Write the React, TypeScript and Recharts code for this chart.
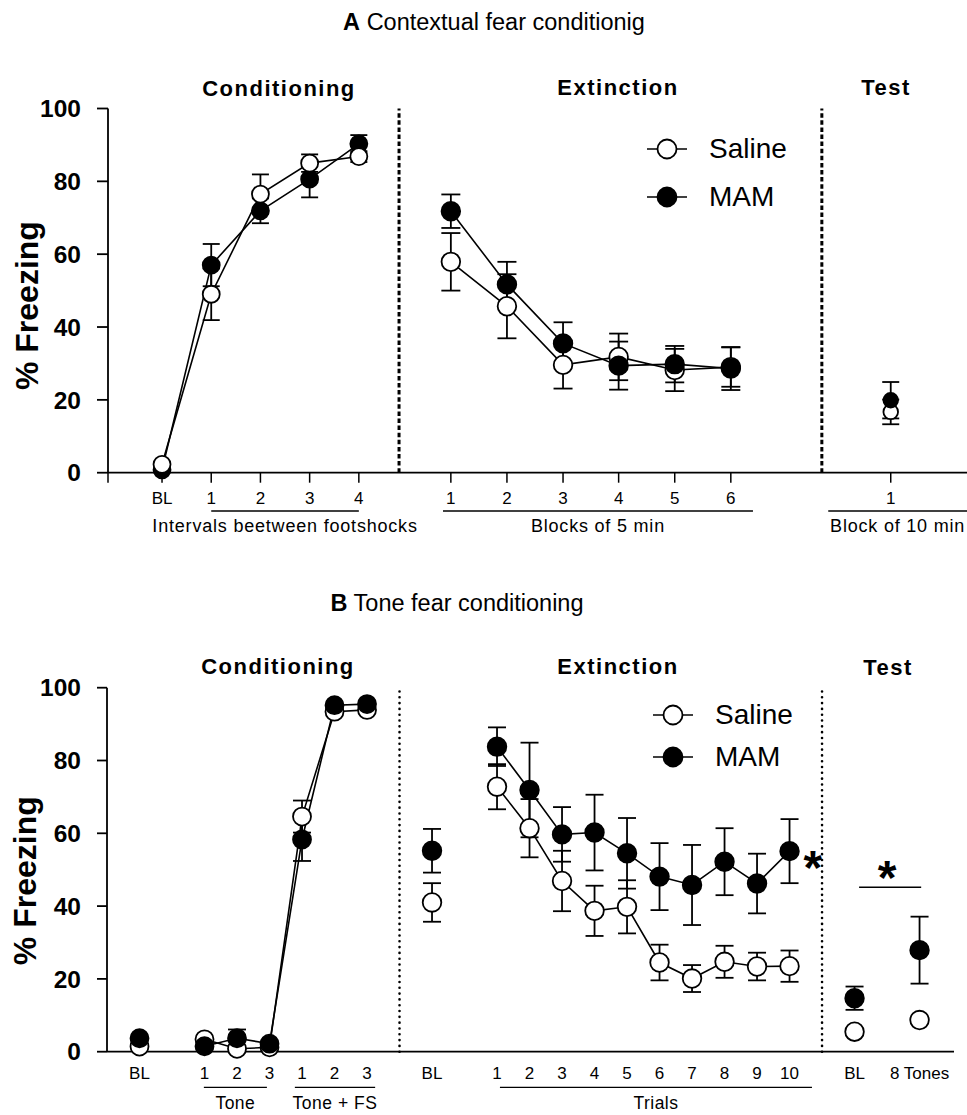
import React from "react";
import {
  ComposedChart,
  ErrorBar,
  Legend,
  Line,
  ReferenceDot,
  ReferenceLine,
  XAxis,
  YAxis,
} from "recharts";

const FONT = '"Liberation Sans", Arial, Helvetica, sans-serif';
const seriesNames = ["Saline", "MAM"];

// ---- Panel A: contextual fear conditioning ----
const condALabels = ["BL", "1", "2", "3", "4"];
const condAX = [0, 1, 2, 3, 4];
const condASaline = [2.3, 49, 76.5, 85, 86.8];
const condASalineErr = [0, 7.1, 5.4, 2.4, 1.5];
const condAMam = [0.8, 57, 71.9, 80.6, 90.3];
const condAMamErr = [0, 5.8, 3.4, 5, 2.4];

const extALabels = ["1", "2", "3", "4", "5", "6"];
const extAX = [5.87, 7.01, 8.15, 9.28, 10.42, 11.56];
const extASaline = [57.9, 45.7, 29.6, 31.8, 28.2, 29];
const extASalineErr = [7.9, 8.8, 6.5, 6.4, 5.8, 5.4];
const extAMam = [71.8, 51.7, 35.5, 29.4, 29.8, 28.6];
const extAMamErr = [4.6, 6.2, 5.8, 6.6, 5, 5.9];

const testALabels = ["1"];
const testAX = [14.81];
const testASaline = [16.7];
const testASalineErr = [3.4];
const testAMam = [19.9];
const testAMamErr = [5];

const A_DOMAIN: [number, number] = [-1.098, 16.36];
const A_DIVIDERS = [4.817, 13.41];
const A_GROUPS = [
  { from: 1, to: 4, label: "Intervals beetween footshocks" },
  { from: 5.71, to: 12.01, label: "Blocks of 5 min" },
  { from: 13.54, to: 16.36, label: "Block of 10 min" },
];

// ---- Panel B: tone fear conditioning ----
const blBX = [1];
const blBSaline = [1.4];
const blBMam = [3.7];

const toneBLabels = ["1", "2", "3", "1", "2", "3"];
const toneBX = [3, 4, 5, 6, 7, 8];
const toneBSaline = [3.4, 0.8, 1.2, 64.6, 93.4, 93.9];
const toneBSalineErr = [0, 0, 0, 4.4, 0, 0];
const toneBMam = [1.5, 3.7, 2.2, 58.3, 95.2, 95.5];
const toneBMamErr = [0, 2.4, 0, 5.9, 0, 0];

const extBlBX = [10];
const extBlBSaline = [41];
const extBlBSalineErr = [5.3];
const extBlBMam = [55.2];
const extBlBMamErr = [6];

const trialBLabels = ["1", "2", "3", "4", "5", "6", "7", "8", "9", "10"];
const trialBX = [12, 13, 14, 15, 16, 17, 18, 19, 20, 21];
const trialBSaline = [72.8, 61.4, 46.9, 38.7, 39.8, 24.5, 20.1, 24.7, 23.4, 23.5];
const trialBSalineErr = [6.2, 8, 8.3, 6.9, 7.3, 4.9, 3.7, 4.4, 3.8, 4.3];
const trialBMam = [83.8, 71.9, 59.7, 60.2, 54.5, 48.1, 45.8, 52.2, 46.2, 55.1];
const trialBMamErr = [5.3, 13, 7.5, 10.4, 9.7, 9.2, 11, 9.2, 8.2, 8.8];

const testBLabels = ["BL", "8 Tones"];
const testBX = [23, 25];
const testBSaline = [5.5, 8.7];
const testBMam = [14.7, 27.9];
const testBMamErr = [3.2, 9.2];

const B_DOMAIN: [number, number] = [0, 26.06];
const B_DIVIDERS = [9, 22];
const B_GROUPS = [
  { from: 2.98, to: 4.92, label: "Tone" },
  { from: 5.78, to: 8.25, label: "Tone + FS" },
  { from: 12.09, to: 21.69, label: "Trials" },
];

const yTicks = [0, 20, 40, 60, 80, 100];

type Pt = { x: number; y: number; e: number };
const pts = (xs: number[], ys: number[], es?: number[]): Pt[] =>
  xs.map((x, i) => ({ x, y: ys[i], e: es ? es[i] : 0 }));

type Tick = { x: number; label: string };
const tickList = (xs: number[], labels: string[]): Tick[] =>
  xs.map((x, i) => ({ x, label: labels[i] }));

function series(
  key: string,
  data: Pt[],
  open: boolean,
  r: number,
  cap: number,
  connect = true
) {
  return (
    <Line
      key={key}
      data={data}
      dataKey="y"
      type="linear"
      stroke={connect ? "#000" : "none"}
      strokeWidth={1.6}
      dot={{ r, fill: open ? "#fff" : "#000", stroke: "#000", strokeWidth: 1.8 }}
      activeDot={false}
      legendType="none"
      isAnimationActive={false}
    >
      <ErrorBar dataKey="e" direction="y" width={cap} stroke="#000" strokeWidth={1.8} />
    </Line>
  );
}

function LegendBox({ rowH }: { rowH: number }) {
  return (
    <div style={{ fontFamily: FONT, fontSize: 28, color: "#000" }}>
      {seriesNames.map((name, i) => (
        <div key={name} style={{ display: "flex", alignItems: "center", height: rowH }}>
          <svg width={40} height={rowH}>
            <line x1={0} x2={40} y1={rowH / 2} y2={rowH / 2} stroke="#000" strokeWidth={1.6} />
            <circle
              cx={20}
              cy={rowH / 2}
              r={9.5}
              fill={i === 0 ? "#fff" : "#000"}
              stroke="#000"
              strokeWidth={1.8}
            />
          </svg>
          <span style={{ marginLeft: 22, lineHeight: `${rowH}px` }}>{name}</span>
        </div>
      ))}
    </div>
  );
}

const yLabel = (cx: number, dy: number) => (props: any) => {
  const vb = props.viewBox || { y: 0, height: 0 };
  const cy = vb.y + vb.height / 2 + dy;
  return (
    <text
      x={cx}
      y={cy}
      transform={`rotate(-90 ${cx} ${cy})`}
      textAnchor="middle"
      dominantBaseline="central"
      fontSize={32}
      fontWeight="bold"
      fill="#000"
    >
      % Freezing
    </text>
  );
};

const Star = (p: any) => (
  <text
    x={p.cx}
    y={p.cy}
    dy="0.55em"
    textAnchor="middle"
    fontSize={48}
    fontWeight="bold"
    fill="#000"
  >
    *
  </text>
);

function groupLines(
  groups: { from: number; to: number; label: string }[],
  y: number,
  fontSize: number,
  spacing: number,
  offset: number
) {
  return groups.map((g) => (
    <ReferenceLine
      key={g.label}
      segment={[
        { x: g.from, y },
        { x: g.to, y },
      ]}
      stroke="#000"
      strokeWidth={1.4}
      ifOverflow="visible"
      label={{
        value: g.label,
        position: "bottom",
        offset,
        fill: "#000",
        fontSize,
        style: { letterSpacing: `${spacing}px` },
      }}
    />
  ));
}

function PanelA() {
  const ticks: Tick[] = [
    { x: A_DOMAIN[0], label: "" },
    ...tickList(condAX, condALabels),
    ...tickList(extAX, extALabels),
    ...tickList(testAX, testALabels),
  ];
  const fmt = (v: number) => ticks.find((t) => Math.abs(t.x - v) < 1e-6)?.label ?? "";
  return (
    <ComposedChart
      width={967}
      height={545}
      margin={{ top: 108.5, right: 0, bottom: 0, left: 0 }}
    >
      <XAxis
        type="number"
        dataKey="x"
        domain={A_DOMAIN}
        ticks={ticks.map((t) => t.x)}
        interval={0}
        tickFormatter={fmt}
        height={72.3}
        tickSize={10}
        tickMargin={9.5}
        axisLine={{ stroke: "#000", strokeWidth: 1.8 }}
        tickLine={{ stroke: "#000", strokeWidth: 1.5 }}
        tick={{ fontSize: 17, fill: "#000" }}
      />
      <YAxis
        type="number"
        domain={[0, 100]}
        ticks={yTicks}
        width={108}
        tickSize={11}
        tickMargin={16}
        axisLine={{ stroke: "#000", strokeWidth: 1.8 }}
        tickLine={{ stroke: "#000", strokeWidth: 1.8 }}
        tick={{ fontSize: 24.5, fontWeight: "bold", fill: "#000" }}
        label={yLabel(27, 15)}
      />
      {A_DIVIDERS.map((x) => (
        <ReferenceLine key={x} x={x} stroke="#000" strokeWidth={3} strokeDasharray="4.5 2.6" />
      ))}
      {groupLines(A_GROUPS, -10.5, 18, 0.8, 8)}
      {series("cam", pts(condAX, condAMam, condAMamErr), false, 8.5, 8.5)}
      {series("cas", pts(condAX, condASaline, condASalineErr), true, 8.5, 8.5)}
      {series("eas", pts(extAX, extASaline, extASalineErr), true, 9.3, 9.5)}
      {series("eam", pts(extAX, extAMam, extAMamErr), false, 9.3, 9.5)}
      {series("tas", pts(testAX, testASaline, testASalineErr), true, 7.3, 8.5, false)}
      {series("tam", pts(testAX, testAMam, testAMamErr), false, 7.3, 8.5, false)}
      <Legend
        verticalAlign="middle"
        align="center"
        wrapperStyle={{ left: 647, top: 125, width: 220 }}
        content={() => <LegendBox rowH={48} />}
      />
    </ComposedChart>
  );
}

function PanelB() {
  const ticks: Tick[] = [
    ...tickList(blBX, ["BL"]),
    ...tickList(toneBX, toneBLabels),
    ...tickList(extBlBX, ["BL"]),
    ...tickList(trialBX, trialBLabels),
    ...tickList(testBX, testBLabels),
  ];
  const fmt = (v: number) => ticks.find((t) => Math.abs(t.x - v) < 1e-6)?.label ?? "";
  return (
    <ComposedChart
      width={954}
      height={535}
      margin={{ top: 107.7, right: 0, bottom: 0, left: 0 }}
    >
      <XAxis
        type="number"
        dataKey="x"
        domain={B_DOMAIN}
        ticks={ticks.map((t) => t.x)}
        interval={0}
        tickFormatter={fmt}
        height={63.3}
        tickSize={0}
        tickMargin={15}
        axisLine={{ stroke: "#000", strokeWidth: 1.8 }}
        tickLine={false}
        tick={{ fontSize: 17, fill: "#000" }}
      />
      <YAxis
        type="number"
        domain={[0, 100]}
        ticks={yTicks}
        width={107}
        tickSize={10}
        tickMargin={16}
        axisLine={{ stroke: "#000", strokeWidth: 1.8 }}
        tickLine={{ stroke: "#000", strokeWidth: 1.8 }}
        tick={{ fontSize: 24.5, fontWeight: "bold", fill: "#000" }}
        label={yLabel(25, 11)}
      />
      {B_DIVIDERS.map((x) => (
        <ReferenceLine
          key={x}
          x={x}
          stroke="#000"
          strokeWidth={2.6}
          strokeDasharray="0.01 5.8"
          strokeLinecap="round"
        />
      ))}
      {groupLines(B_GROUPS, -9.8, 17.5, 0.5, 9)}
      <ReferenceLine
        segment={[
          { x: 23.14, y: 45.2 },
          { x: 25.05, y: 45.2 },
        ]}
        stroke="#000"
        strokeWidth={1.5}
      />
      <ReferenceDot x={24} y={50.7} r={0} shape={Star} />
      <ReferenceDot x={21.72} y={53.2} r={0} shape={Star} />
      {series("bs", pts(blBX, blBSaline), true, 9, 9, false)}
      {series("bm", pts(blBX, blBMam), false, 9, 9, false)}
      {series("ts", pts(toneBX, toneBSaline, toneBSalineErr), true, 9, 9)}
      {series("tm", pts(toneBX, toneBMam, toneBMamErr), false, 9, 9)}
      {series("ebs", pts(extBlBX, extBlBSaline, extBlBSalineErr), true, 9.3, 9, false)}
      {series("ebm", pts(extBlBX, extBlBMam, extBlBMamErr), false, 9.3, 9, false)}
      {series("trs", pts(trialBX, trialBSaline, trialBSalineErr), true, 9.3, 9)}
      {series("trm", pts(trialBX, trialBMam, trialBMamErr), false, 9.3, 9)}
      {series("tes", pts(testBX, testBSaline), true, 9.3, 9, false)}
      {series("tem", pts(testBX, testBMam, testBMamErr), false, 9.3, 9, false)}
      <Legend
        verticalAlign="middle"
        align="center"
        wrapperStyle={{ left: 653, top: 114, width: 220 }}
        content={() => <LegendBox rowH={42} />}
      />
    </ComposedChart>
  );
}

function Title({ cx, top, letter, text }: { cx: number; top: number; letter: string; text: string }) {
  return (
    <div
      style={{
        position: "absolute",
        left: cx - 300,
        width: 600,
        top,
        textAlign: "center",
        fontSize: 23.5,
        lineHeight: "23px",
        whiteSpace: "nowrap",
      }}
    >
      <b>{letter}</b> {text}
    </div>
  );
}

function Header({ cx, top, text }: { cx: number; top: number; text: string }) {
  return (
    <div
      style={{
        position: "absolute",
        left: cx - 150,
        width: 300,
        top,
        textAlign: "center",
        fontSize: 22,
        lineHeight: "22px",
        fontWeight: "bold",
        letterSpacing: "1.5px",
        whiteSpace: "nowrap",
      }}
    >
      {text}
    </div>
  );
}

export default function App() {
  return (
    <div
      style={{
        position: "absolute",
        left: 0,
        top: 0,
        width: 967,
        height: 1115,
        background: "#fff",
        fontFamily: FONT,
        color: "#000",
        overflow: "hidden",
      }}
    >
      <div style={{ position: "absolute", left: 0, top: 0 }}>
        <PanelA />
      </div>
      <div style={{ position: "absolute", left: 0, top: 580 }}>
        <PanelB />
      </div>
      <Title cx={494} top={11} letter="A" text="Contextual fear conditionig" />
      <Title cx={457} top={592} letter="B" text="Tone fear conditioning" />
      <Header cx={279} top={78} text="Conditioning" />
      <Header cx={618} top={77} text="Extinction" />
      <Header cx={886} top={77} text="Test" />
      <Header cx={278} top={656} text="Conditioning" />
      <Header cx={618} top={656} text="Extinction" />
      <Header cx={888} top={657} text="Test" />
    </div>
  );
}
